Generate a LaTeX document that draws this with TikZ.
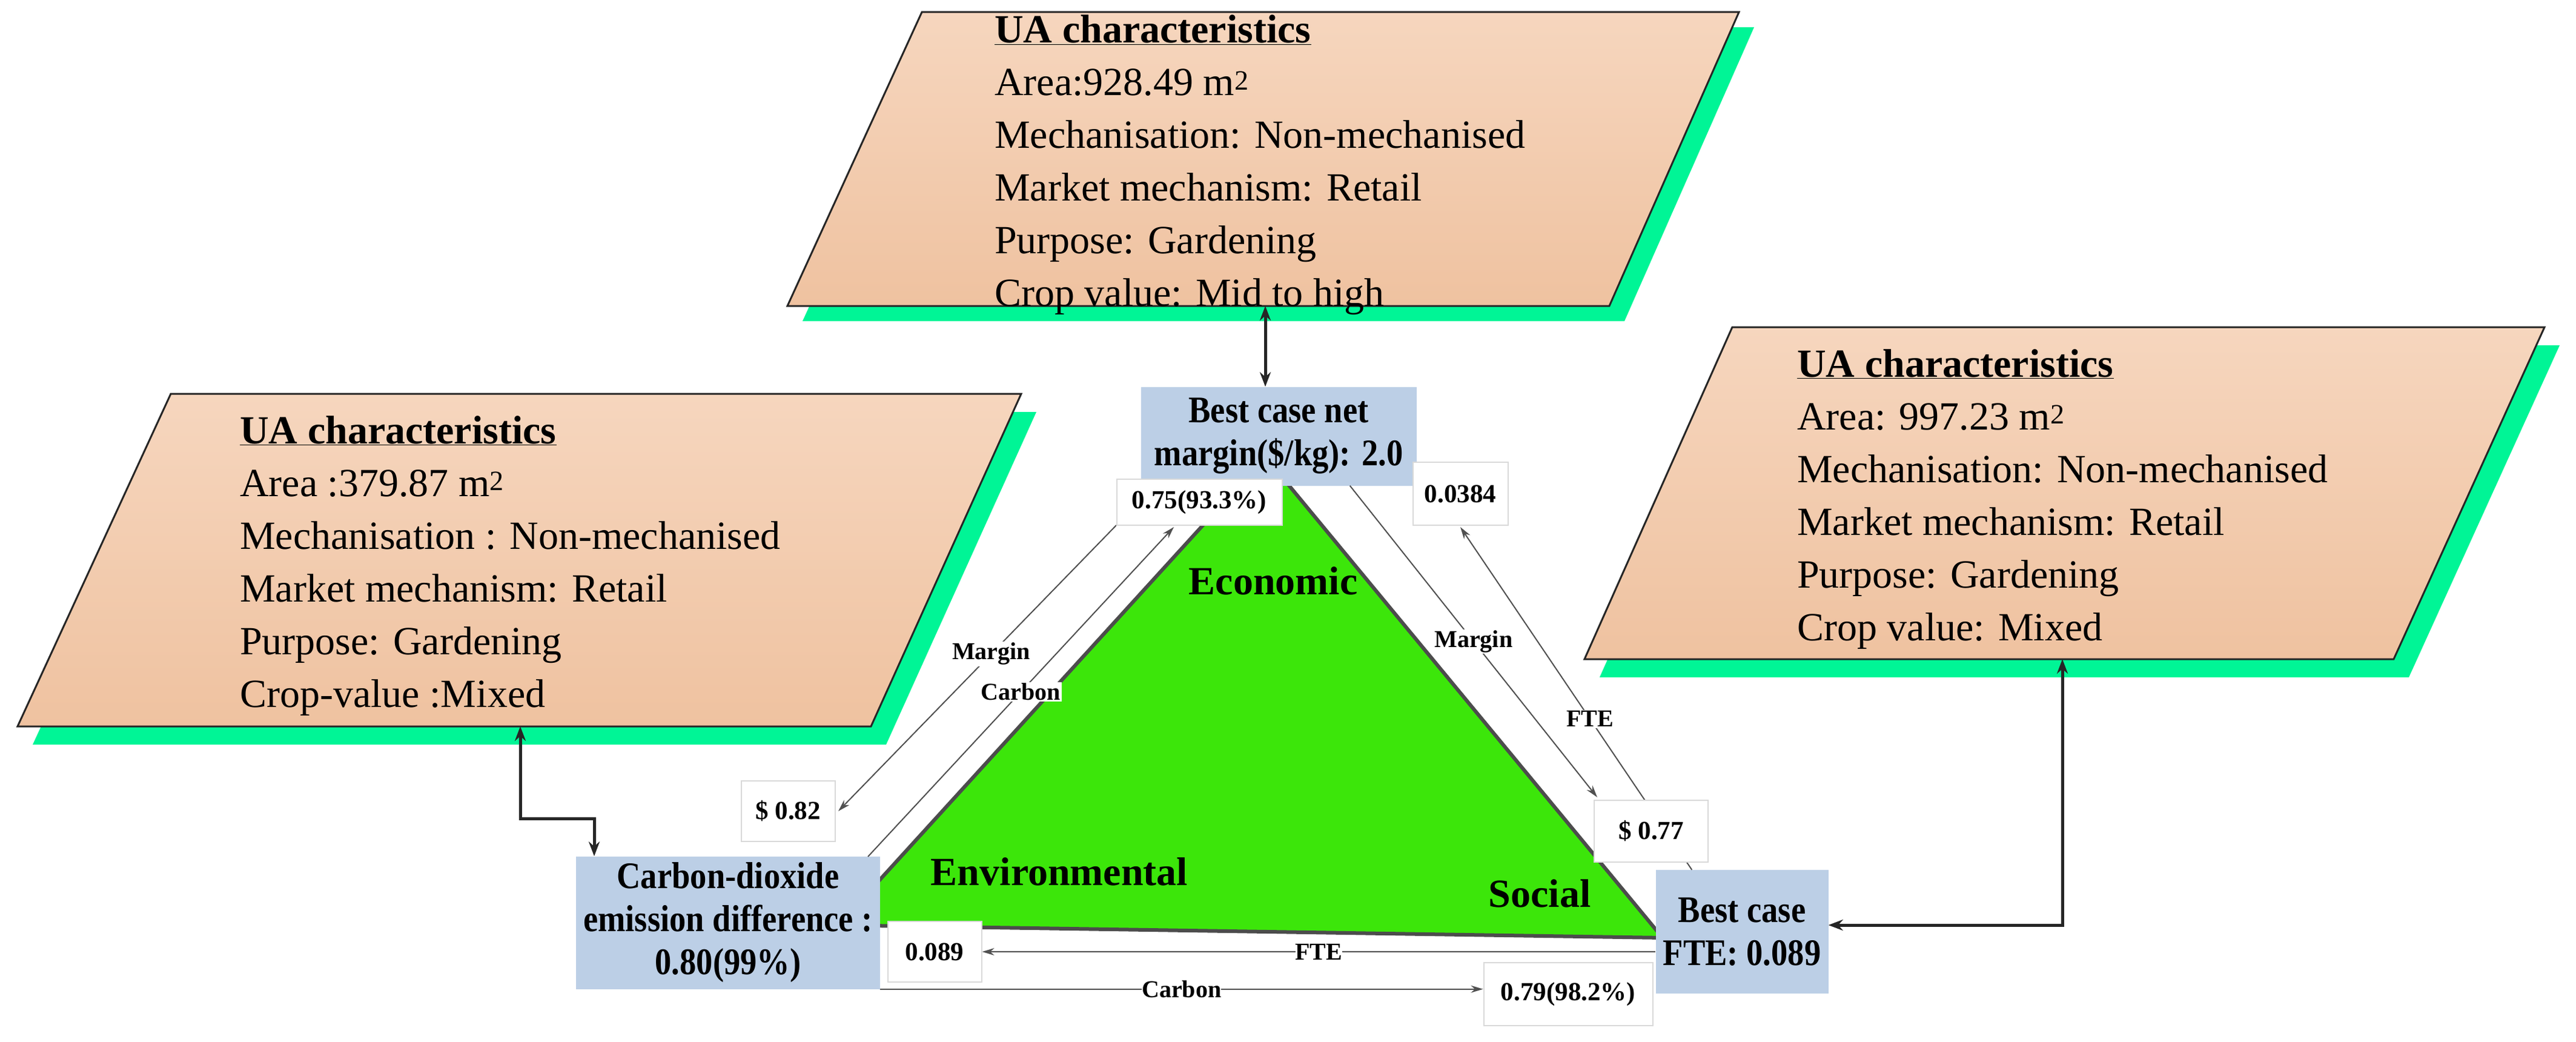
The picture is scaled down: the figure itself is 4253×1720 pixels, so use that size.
\documentclass[tikz,border=0pt]{standalone}
\usepackage{fontspec}
\setmainfont{Liberation Serif}
\newfontfamily\condfont[FakeStretch=0.88]{Liberation Serif}
\usetikzlibrary{arrows.meta}
\definecolor{peachT}{RGB}{246,214,190}
\definecolor{peachB}{RGB}{239,194,160}
\definecolor{shadowgreen}{RGB}{0,245,150}
\definecolor{trigreen}{RGB}{60,230,10}
\definecolor{bluebox}{RGB}{188,207,230}
\definecolor{lineg}{RGB}{80,80,80}
\tikzset{
  uatext/.style={anchor=north west,inner sep=0pt,align=left,font=\fontsize{66}{87}\selectfont},
  bluenode/.style={rectangle,fill=bluebox,inner sep=0pt,align=center,font=\condfont\bfseries\fontsize{62}{71}\selectfont},
  valbox/.style={rectangle,fill=white,draw=black!15,line width=2pt,inner sep=0pt,font=\bfseries\fontsize{43}{50}\selectfont},
  lbl/.style={fill=white,inner sep=2pt,font=\bfseries\fontsize{40}{46}\selectfont},
  thin arrow/.style={draw=lineg,line width=2pt,-{Stealth[length=20pt,width=12pt]}},
  thick arrow/.style={draw=black!85,line width=5pt,{Stealth[length=24pt,width=18pt]}-{Stealth[length=24pt,width=18pt]}},
  dimname/.style={font=\bfseries\fontsize{66}{70}\selectfont,inner sep=0pt}
}
\begin{document}
\begin{tikzpicture}[x=1pt,y=-1pt]
\useasboundingbox (0,0) rectangle (4253,1720);
% parallelograms: shadows
\fill[shadowgreen] (307,680)--(1711,680)--(1463,1229)--(54,1229)--cycle;
\fill[shadowgreen] (1547,45)--(2896,45)--(2682,530)--(1325,530)--cycle;
\fill[shadowgreen] (2885,570)--(4226,570)--(3977,1118)--(2641,1118)--cycle;
% parallelograms
\filldraw[top color=peachT,bottom color=peachB,draw=black!85,line width=3pt] (282,650)--(1686,650)--(1438,1199)--(29,1199)--cycle;
\filldraw[top color=peachT,bottom color=peachB,draw=black!85,line width=3pt] (1522,20)--(2871,20)--(2657,505)--(1300,505)--cycle;
\filldraw[top color=peachT,bottom color=peachB,draw=black!85,line width=3pt] (2860,540)--(4201,540)--(3952,1088)--(2616,1088)--cycle;
\node[uatext] (ualeft) at (396,686) {\textbf{\underline{UA characteristics}}\\Area :379.87 m\textsuperscript{2}\\Mechanisation : Non-mechanised\\Market mechanism: Retail\\Purpose: Gardening\\Crop-value :Mixed};
\node[uatext] (uatop) at (1642,25) {\textbf{\underline{UA characteristics}}\\Area:928.49 m\textsuperscript{2}\\Mechanisation: Non-mechanised\\Market mechanism: Retail\\Purpose: Gardening\\Crop value: Mid to high};
\node[uatext] (uaright) at (2967,576) {\textbf{\underline{UA characteristics}}\\Area: 997.23 m\textsuperscript{2}\\Mechanisation: Non-mechanised\\Market mechanism: Retail\\Purpose: Gardening\\Crop value: Mixed};
\coordinate (lbot) at (859,1199);
\coordinate (tbot) at (2089,505);
\coordinate (rbot) at (3405,1088);
% triangle
\filldraw[fill=trigreen,draw=black!70,line width=6pt,line join=round] (1440,1466)--(2089,754)--(2745,1548)--(1440,1528)--cycle;
% blue boxes
\node[bluenode,minimum width=502,minimum height=219] (co2) at (1202,1523) {Carbon-dioxide\\emission difference :\\0.80(99\%)};
\node[bluenode,minimum width=455,minimum height=163] (bnet) at (2111,720) {Best case net\\margin(\$/kg): 2.0};
\node[bluenode,minimum width=285,minimum height=204] (fte) at (2876,1538) {Best case\\FTE: 0.089};
% connector lines (under value boxes)
\draw[thin arrow] (1843,867) coordinate (m1s) -- node[lbl,pos=0.45]{Margin} (1384,1339) coordinate (m1e);
\draw[thin arrow] (1433,1414) -- node[lbl,pos=0.5]{Carbon} (1938,870);
\draw[thin arrow] ([xshift=-110pt]bnet.south east) -- node[lbl,pos=0.5]{Margin} (2637,1316);
\draw[thin arrow] ([xshift=60pt]fte.north west) -- node[lbl,pos=0.44]{FTE} (2411,870);
% value boxes
\node[valbox,minimum width=273,minimum height=76] (b075) at (1980,829) {0.75(93.3\%)};
\node[valbox,minimum width=157,minimum height=104] (b0384) at (2411,815) {0.0384};
\node[valbox,minimum width=155,minimum height=100] (b082) at (1301,1339) {\$ 0.82};
\node[valbox,minimum width=188,minimum height=102] (b077) at (2726,1372) {\$ 0.77};
\node[valbox,minimum width=155,minimum height=100] (b089) at (1543,1571) {0.089};
\node[valbox,minimum width=279,minimum height=104] (b079) at (2589,1641) {0.79(98.2\%)};
\draw[thin arrow] (fte.west |- b089.east) -- node[lbl,pos=0.5,inner sep=0pt]{FTE} (b089.east);
\draw[thin arrow] (co2.south east) -- node[lbl,pos=0.5,inner sep=0pt]{Carbon} (co2.south east -| b079.west);
% thick connectors
\draw[thick arrow] (tbot) -- (bnet.north -| tbot);
\draw[thick arrow] (lbot) -- (859,1351) -- (981,1351) -- (co2.north -| 981,0);
\draw[thick arrow] (rbot) -- (3405,1527) -- (fte.east |- 0,1527);
% dimension names
\node[dimname] (econ) at (2102,959) {Economic};
\node[dimname] (env) at (1749,1439) {Environmental};
\node[dimname] (soc) at (2542,1475) {Social};
\end{tikzpicture}
\end{document}
